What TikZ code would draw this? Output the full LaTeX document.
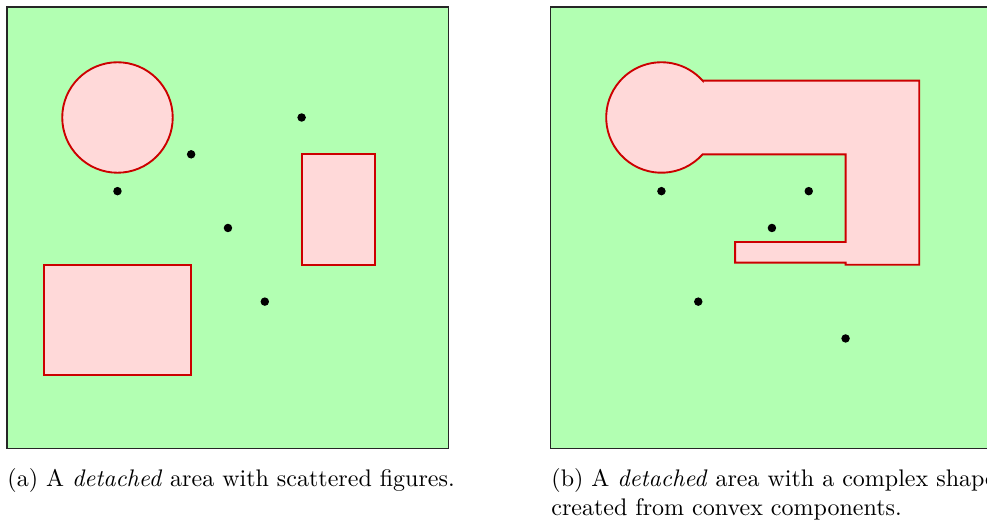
\documentclass[tikz,border=0pt]{standalone}
\tikzset{
  area/.style={draw=black!85, line width=0.45pt, fill=green!30},
  figure/.style={draw=red!80!black, line width=0.8pt, fill=red!15},
  agent/.style={fill=black, circle, inner sep=0pt, minimum size=3.6pt},
  caption/.style={inner sep=0pt, anchor=base west, font=\fontsize{10.2}{12.1}\selectfont}
}
\begin{document}
\begin{tikzpicture}[x=0.55cm, y=0.55cm]
  \useasboundingbox (-0.19,0.19) rectangle (26.61,-14.01);

  % ---- (a) scattered figures ----
  \begin{scope}
    \draw[area] (0,0) rectangle (12,-12);
    \draw[figure] (3,-3) circle[radius=1.5];
    \draw[figure] (8,-4) rectangle (10,-7);
    \draw[figure] (1,-7) rectangle (5,-10);
    \node[agent] (a1) at (5,-4) {};
    \node[agent] (a2) at (3,-5) {};
    \node[agent] (a3) at (6,-6) {};
    \node[agent] (a4) at (7,-8) {};
    \node[agent] (a5) at (8,-3) {};
  \end{scope}
  \node[caption] (capa) at (0,-13.03) {(a) A \emph{detached} area with scattered figures.};

  % ---- (b) one shape built from convex parts ----
  \begin{scope}[xshift=14.77*0.55cm]
    \draw[area] (0,0) rectangle (12,-12);
    \draw[figure] (4.118,-2) -- (10,-2) -- (10,-7) -- (8,-7) -- (8,-6.94)
      -- (5,-6.94) -- (5,-6.38) -- (8,-6.38) -- (8,-4) -- (4.118,-4)
      arc[start angle=-41.81, end angle=-318.19, radius=1.5] -- cycle;
    \node[agent] (b1) at (3,-5) {};
    \node[agent] (b2) at (7,-5) {};
    \node[agent] (b3) at (6,-6) {};
    \node[agent] (b4) at (4,-8) {};
    \node[agent] (b5) at (8,-9) {};
  \end{scope}
  \node[caption] (capb) at (14.77,-13.03)
    {\vtop{\hbox{(b) A \emph{detached} area with a complex shape}\hbox{created from convex components.}}};
\end{tikzpicture}
\end{document}
